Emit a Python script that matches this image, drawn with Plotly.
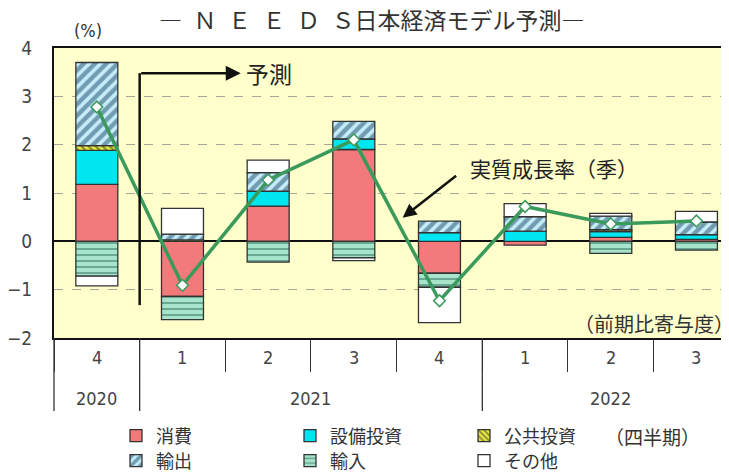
import plotly.graph_objects as go

# ---- data ----
years = ["2020", "2021", "2021", "2021", "2021", "2022", "2022", "2022"]
quarters = ["4", "1", "2", "3", "4", "1", "2", "3"]
consumption = [1.18, -1.14, 0.73, 1.90, -0.66, -0.08, 0.08, 0.04]
capex = [0.70, 0.00, 0.31, 0.22, 0.18, 0.21, 0.12, 0.10]
public_inv = [0.10, 0.03, 0.00, 0.00, 0.00, 0.00, 0.04, 0.00]
exports = [1.72, 0.12, 0.38, 0.36, 0.24, 0.30, 0.28, 0.26]
imports = [-0.72, -0.48, -0.43, -0.34, -0.29, 0.00, -0.25, -0.18]
other = [-0.20, 0.53, 0.26, -0.06, -0.73, 0.27, 0.06, 0.22]
gdp = [2.78, -0.91, 1.27, 2.10, -1.23, 0.72, 0.36, 0.42]

cats = [f"{y}Q{q}" for y, q in zip(years, quarters)]
JP = "Noto Sans CJK JP"
NUM = "Liberation Sans Narrow, DejaVu Sans Condensed, Arial"
outline = dict(color="#333333", width=1.3)
BW = 0.49

fig = go.Figure()
fig.add_trace(go.Bar(x=cats, y=consumption, name="消費", width=BW, legend="legend",
                     marker=dict(color="#f27a7a", line=outline)))
fig.add_trace(go.Bar(x=cats, y=capex, name="設備投資", width=BW, legend="legend",
                     marker=dict(color="#00e6f0", line=outline)))
fig.add_trace(go.Bar(x=cats, y=public_inv, name="公共投資", width=BW, legend="legend",
                     marker=dict(color="#e6e640", line=outline,
                                 pattern=dict(shape="\\", fgcolor="#222222",
                                              bgcolor="#e6e640", size=5, solidity=0.4))))
fig.add_trace(go.Bar(x=cats, y=exports, name="輸出", width=BW, legend="legend2",
                     marker=dict(color="#c6ecfa", line=outline,
                                 pattern=dict(shape="/", fgcolor="#1a4a66",
                                              bgcolor="#c6ecfa", size=8, solidity=0.55))))
fig.add_trace(go.Bar(x=cats, y=imports, name="輸入", width=BW, legend="legend2",
                     marker=dict(color="#a6e4cc", line=outline,
                                 pattern=dict(shape="-", fgcolor="#1f5e4a",
                                              bgcolor="#a6e4cc", size=6, solidity=0.3))))
fig.add_trace(go.Bar(x=cats, y=other, name="その他", width=BW, legend="legend2",
                     marker=dict(color="#ffffff", line=outline)))
fig.add_trace(go.Scatter(x=cats, y=gdp, mode="lines+markers", name="実質成長率（季）",
                         showlegend=False,
                         line=dict(color="#3a9a5c", width=3.5),
                         marker=dict(symbol="diamond", size=9, color="#ffffff",
                                     line=dict(color="#3a9a5c", width=1.5))))

# page layout (the html body adds an 8px offset)
OFF = 8
W, H = 729 - OFF, 473 - OFF
PL, PR, PT, PB = 54, 729, 48, 338          # plot box in window pixels
XR = [-0.5, 7.38]
span = XR[1] - XR[0]
PW = PR - PL


def px(i):
    return (i - XR[0]) / span


def pxw(wx):
    return (wx - PL) / (PR - PL)


def pyw(wy):
    return (PB - wy) / (PB - PT)


legend_common = dict(orientation="h", xanchor="left", yanchor="middle",
                     xref="container", yref="container",
                     entrywidth=129, entrywidthmode="pixels",
                     font=dict(family=JP, size=18, color="#333333"),
                     bgcolor="rgba(0,0,0,0)", itemwidth=30, traceorder="normal")

fig.update_layout(
    width=W, height=H,
    margin=dict(l=PL - OFF, r=0, t=PT - OFF, b=H - (PB - OFF), autoexpand=False),
    barmode="relative",
    paper_bgcolor="white",
    plot_bgcolor="#ffffcc",
    font=dict(family=JP, color="#333333"),
    showlegend=True,
    legend=dict(x=(116 - OFF) / W, y=1 - (436 - OFF) / H, **legend_common),
    legend2=dict(x=(116 - OFF) / W, y=1 - (461 - OFF) / H, **legend_common),
    xaxis=dict(type="category", range=XR, showgrid=False, showticklabels=False,
               showline=True, linecolor="#111111", linewidth=2, mirror=True,
               ticks="outside", tickson="boundaries", ticklen=32, tickcolor="#333333",
               tickwidth=1.3),
    yaxis=dict(range=[-2, 4], dtick=1, showline=True, linecolor="#111111", linewidth=2,
               mirror=False, showgrid=True, gridcolor="#a8a89a", griddash="dash",
               gridwidth=1.2, zeroline=True, zerolinecolor="#111111", zerolinewidth=1.5,
               ticks="", ticklabelstandoff=16,
               tickfont=dict(family=NUM, size=19, color="#444444")),
)

ann = dict(showarrow=False, xanchor="center", yanchor="middle")

# quarter labels (first row of the category table)
for c, q in zip(cats, quarters):
    fig.add_annotation(xref="x", yref="paper", x=c, y=pyw(357), text=q,
                       font=dict(family=NUM, size=18, color="#444444"), **ann)

# year labels and group dividers
groups = []
for i, y in enumerate(years):
    if not groups or groups[-1][0] != y:
        groups.append([y, i, i])
    else:
        groups[-1][2] = i
for y, i0, i1 in groups:
    fig.add_annotation(xref="x", yref="paper", x=(i0 + i1) / 2, y=pyw(398), text=y,
                       font=dict(family=NUM, size=18, color="#444444"), **ann)
    if i0 - 0.5 > XR[0]:
        fig.add_shape(type="line", xref="x", yref="paper", x0=i0 - 0.5, x1=i0 - 0.5,
                      y0=0, y1=pyw(411), line=dict(color="#333333", width=1.3))
fig.add_shape(type="line", xref="paper", yref="paper", x0=0, x1=0, y0=0, y1=pyw(411),
              line=dict(color="#333333", width=1.3))

# forecast marker: vertical line + arrow
fig.add_shape(type="line", xref="paper", yref="y", x0=px(0.5), x1=px(0.5),
              y0=-1.32, y1=3.48, line=dict(color="#111111", width=2.5))
fig.add_annotation(xref="paper", yref="y", x=px(1.68), y=3.48, ax=-(px(1.68) - px(0.5)) * PW,
                   ay=0, showarrow=True, arrowhead=2, arrowsize=1.2, arrowwidth=2.5,
                   arrowcolor="#111111", text="")
fig.add_annotation(xref="paper", yref="y", x=px(1.72), y=3.48, text="予測",
                   font=dict(family=JP, size=23, color="#222222"),
                   **{**ann, "xanchor": "left"})

# growth rate label with arrow
fig.add_annotation(xref="paper", yref="y", x=px(3.57), y=0.49, ax=55, ay=-43,
                   showarrow=True, arrowhead=2, arrowsize=1.1, arrowwidth=2.5,
                   arrowcolor="#111111", text="")
fig.add_annotation(xref="paper", yref="y", x=px(4.33), y=1.52, text="実質成長率（季）",
                   font=dict(family=JP, size=21, color="#222222"),
                   **{**ann, "xanchor": "left"})

fig.add_annotation(xref="paper", yref="y", x=pxw(572), y=-1.71, text="（前期比寄与度）",
                   font=dict(family=JP, size=20, color="#333333"),
                   **{**ann, "xanchor": "left"})

fig.add_annotation(xref="paper", yref="paper", x=pxw(88), y=pyw(30), text="(%)",
                   font=dict(family=NUM, size=18, color="#333333"), **ann)

fig.add_annotation(xref="paper", yref="paper", x=pxw(372), y=pyw(19),
                   text="―\u2002Ｎ\u2002Ｅ\u2002Ｅ\u2002Ｄ\u2002Ｓ日本経済モデル予測―",
                   font=dict(family=JP, size=23, color="#333333"), **ann)

fig.add_annotation(xref="paper", yref="paper", x=pxw(652), y=pyw(436), text="（四半期）",
                   font=dict(family=JP, size=19, color="#333333"), **ann)

fig.write_html("out.html")
